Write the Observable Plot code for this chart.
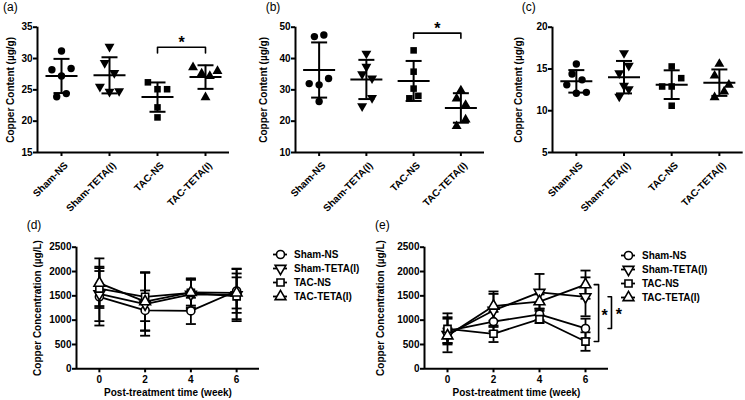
<!DOCTYPE html>
<html><head><meta charset="utf-8">
<script src="https://cdn.jsdelivr.net/npm/d3@7"></script>
<script src="https://cdn.jsdelivr.net/npm/@observablehq/plot@0.6"></script>
<style>
body{margin:0;background:#fff;}
#root{position:relative;width:745px;height:400px;overflow:hidden;font-family:"Liberation Sans",Arial,sans-serif;color:#000;}
.panel{position:absolute;}
.plabel{position:absolute;font-size:12px;line-height:12px;}
</style></head><body><div id="root"></div>
<script>
// ---------- data ----------
const groups = ["Sham-NS", "Sham-TETA(I)", "TAC-NS", "TAC-TETA(I)"];
// (a) copper content, individual animals
const valuesA = [[31.2, 28.2, 28.4, 27.2, 23.9, 24.4], [31.9, 29.3, 27.7, 25.5, 24.7, 24.8], [26.2, 25.1, 25.1, 22.2, 20.6], [28.6, 27.6, 27.2, 28.0, 23.8]];
const jitterA = [[0, -0.2, 0.2, 0, -0.1, 0.1], [0, -0.1, 0.1, -0.2, 0, 0.2], [-0.2, 0, 0.2, 0, 0], [-0.26, -0.08, 0.09, 0.25, 0]];
// (b)
const valuesB = [[47.0, 47.5, 32.0, 31.6, 33.6, 26.3], [41.6, 37.4, 35.0, 33.7, 27.4, 24.8], [42.6, 35.8, 30.4, 27.3, 28.1], [29.8, 27.2, 25.2, 20.5, 18.4]];
const jitterB = [[-0.1, 0.1, -0.21, 0, 0.2, 0], [0, 0, -0.09, 0.12, 0.12, -0.09], [0, 0, 0, -0.09, 0.1], [0, -0.09, 0.1, 0.1, -0.09]];
// (c)
const valuesC = [[15.6, 14.4, 13.7, 13.1, 12.1, 12.2], [16.9, 15.4, 14.5, 13.0, 12.6, 11.7], [15.3, 13.9, 12.9, 12.9, 10.6], [15.6, 14.2, 13.1, 12.3, 11.6]];
const jitterC = [[0, -0.09, 0.12, -0.2, 0, 0.21], [0, 0.1, -0.1, 0, 0.1, -0.1], [0, 0.2, -0.2, 0, 0], [0, -0.1, 0.2, 0.1, -0.1]];
const ticksA = [15, 20, 25, 30, 35];
const ticksB = [10, 20, 30, 40, 50];
const ticksC = [5, 10, 15, 20];
const sigA = {a: 2, b: 3, y: 31.8, drop: 0.9};
const sigB = {a: 2, b: 3, y: 48.1, drop: 1.6};

// (d), (e) serum copper over time: mean and SD per group
const weeks = [0, 2, 4, 6];
const meansD = [[1480, 1200, 1190, 1600], [1540, 1330, 1530, 1520], [1650, 1480, 1560, 1490], [1760, 1380, 1570, 1560]];
const sdsD = [[590, 410, 270, 450], [560, 650, 300, 540], [360, 500, 300, 470], [510, 600, 270, 320]];
const meansE = [[780, 970, 1120, 830], [700, 1200, 1570, 1480], [820, 720, 1020, 560], [680, 1290, 1380, 1730]];
const sdsE = [[250, 200, 120, 200], [360, 340, 380, 400], [320, 170, 80, 190], [150, 300, 150, 290]];
const ticksConc = [0, 500, 1000, 1500, 2000, 2500];
const sigE = [{a: 3, b: 2, x: 6.57, tick: 6.38, starX: 6.83}, {a: 1, b: 0, x: 7.13, tick: 6.98, starX: 7.45}];

// ---------- symbols ----------
const triDown = {draw(ctx, size) {
  const s3 = Math.sqrt(3), y = -Math.sqrt(size / (s3 * 3));
  ctx.moveTo(0, -y * 2); ctx.lineTo(-s3 * y, y); ctx.lineTo(s3 * y, y); ctx.closePath();
}};
const hline = {draw(ctx, size) {
  const w = Math.sqrt(size / Math.PI);
  ctx.moveTo(-w, 0); ctx.lineTo(w, 0);
}};
const groupSymbols = [d3.symbolCircle, triDown, d3.symbolSquare, d3.symbolTriangle];

const baseStyle = {fontFamily: "'Liberation Sans', Arial, sans-serif", fontSize: "10px", fontWeight: "bold", background: "transparent", overflow: "visible", color: "black"};
const intFmt = d3.format("d");

const root = document.getElementById("root");
function place(node, left, top) {
  const d = document.createElement("div");
  d.className = "panel"; d.style.left = left + "px"; d.style.top = top + "px";
  d.appendChild(node); root.appendChild(d);
}
function label(t, left, top) {
  const s = document.createElement("span");
  s.className = "plabel"; s.textContent = t; s.style.left = left + "px"; s.style.top = top + "px";
  root.appendChild(s);
}

function scatterPanel({values, jitter, yDomain, yTicks, width, marginLeft, marginRight, sig, titleDx}) {
  const pts = values.flatMap((vals, g) => vals.map((v, k) => ({g, x: g + jitter[g][k], y: v})));
  const stats = values.map((vals, g) => ({g, mean: d3.mean(vals), sd: d3.deviation(vals)}));
  const idx = groups.map((_, i) => i);
  const marks = [
    Plot.ruleY([yDomain[0]], {strokeWidth: 2}),
    Plot.ruleX([-0.5], {strokeWidth: 2}),
    Plot.axisY(yTicks, {tickSize: 4, tickPadding: 1, strokeWidth: 2, fontSize: 10, tickFormat: intFmt, label: null}),
    Plot.axisX(idx, {tickFormat: () => "", tickSize: 4, strokeWidth: 2, label: null}),
    Plot.text(idx, {x: d => d, frameAnchor: "bottom", text: i => groups[i], rotate: -45, textAnchor: "end", lineAnchor: "top", dx: 2, dy: 8.5, fontSize: 10}),
    Plot.text(["Copper Content (\u00b5g/g)"], {frameAnchor: "left", rotate: -90, dx: titleDx, fontSize: 10, textAnchor: "middle", lineAnchor: "middle"}),
    Plot.ruleX(stats, {x: "g", y1: d => d.mean - d.sd, y2: d => d.mean + d.sd, strokeWidth: 2}),
    Plot.dot(stats, {x: "g", y: "mean", symbol: hline, r: 16, stroke: "black", strokeWidth: 2, fill: "none"}),
    Plot.dot(stats, {x: "g", y: d => d.mean + d.sd, symbol: hline, r: 8, stroke: "black", strokeWidth: 2, fill: "none"}),
    Plot.dot(stats, {x: "g", y: d => d.mean - d.sd, symbol: hline, r: 8, stroke: "black", strokeWidth: 2, fill: "none"}),
    ...groupSymbols.map((sym, g) => Plot.dot(pts.filter(p => p.g === g), {x: "x", y: "y", symbol: sym, r: 3.7, fill: "black", stroke: "none"}))
  ];
  if (sig) {
    marks.push(Plot.line([[sig.a, sig.y - sig.drop], [sig.a, sig.y], [sig.b, sig.y], [sig.b, sig.y - sig.drop]], {strokeWidth: 1.6}));
    marks.push(Plot.text([sig], {x: d => (d.a + d.b) / 2, y: "y", text: () => "*", fontSize: 16, lineAnchor: "bottom", dy: 1}));
  }
  return Plot.plot({
    width, height: 200, marginLeft, marginRight, marginTop: 26.7, marginBottom: 48,
    style: baseStyle,
    x: {domain: [-0.5, 3.5], axis: null},
    y: {domain: yDomain, axis: null},
    marks
  });
}

function linePanel({means, sds, width, marginLeft, marginRight, titleDx, sig}) {
  const rows = means.flatMap((m, g) => m.map((v, k) => ({g, week: weeks[k], mean: v, sd: sds[g][k]})));
  const marks = [
    Plot.ruleY([0], {strokeWidth: 2}),
    Plot.ruleX([-1], {strokeWidth: 2}),
    Plot.axisY(ticksConc, {tickSize: 4, tickPadding: 1, strokeWidth: 2, fontSize: 10, tickFormat: intFmt, label: null}),
    Plot.axisX(weeks, {tickSize: 4, tickPadding: 3, strokeWidth: 2, fontSize: 10, tickFormat: intFmt, label: null}),
    Plot.text(["Copper Concentration (\u00b5g/L)"], {frameAnchor: "left", rotate: -90, dx: titleDx, fontSize: 10, textAnchor: "middle", lineAnchor: "middle"}),
    Plot.text(["Post-treatment time (week)"], {frameAnchor: "bottom", dy: 27.2, fontSize: 10, lineAnchor: "bottom"}),
    Plot.ruleX(rows, {x: "week", y1: d => d.mean - d.sd, y2: d => d.mean + d.sd, strokeWidth: 1.8}),
    Plot.dot(rows, {x: "week", y: d => d.mean + d.sd, symbol: hline, r: 5, stroke: "black", strokeWidth: 1.8, fill: "none"}),
    Plot.dot(rows, {x: "week", y: d => d.mean - d.sd, symbol: hline, r: 5, stroke: "black", strokeWidth: 1.8, fill: "none"}),
    Plot.line(rows, {x: "week", y: "mean", z: "g", stroke: "black", strokeWidth: 1.8}),
    ...groupSymbols.map((sym, g) => Plot.dot(rows.filter(r => r.g === g), {x: "week", y: "mean", symbol: sym, r: 4, fill: "white", stroke: "black", strokeWidth: 1.6}))
  ];
  if (sig) {
    for (const s of sig) {
      const ya = means[s.a][3], yb = means[s.b][3];
      marks.push(Plot.line([[s.tick, ya], [s.x, ya], [s.x, yb], [s.tick, yb]], {strokeWidth: 1.6}));
      marks.push(Plot.text([s], {x: "starX", y: () => (ya + yb) / 2, text: () => "*", fontSize: 16, lineAnchor: "bottom", dy: 7.5}));
    }
  }
  return Plot.plot({
    width, height: 200, marginLeft, marginRight, marginTop: 46.7, marginBottom: 31.7,
    style: baseStyle,
    x: {domain: [-1, 7], axis: null},
    y: {domain: [0, 2500], axis: null},
    marks
  });
}

function legendPanel() {
  return Plot.plot({
    width: 110, height: 60, marginLeft: 0, marginRight: 0, marginTop: 8, marginBottom: 8,
    style: baseStyle,
    x: {domain: [0, 110], axis: null},
    y: {type: "point", domain: groups, padding: 0, axis: null},
    marks: [
      Plot.ruleY(groups, {y: d => d, x1: 0, x2: 14, strokeWidth: 1.8}),
      ...groupSymbols.map((sym, g) => Plot.dot([groups[g]], {x: 7, y: d => d, symbol: sym, r: 4, fill: "white", stroke: "black", strokeWidth: 1.6})),
      Plot.text(groups, {x: 20.5, y: d => d, text: d => d, textAnchor: "start", fontSize: 10})
    ]
  });
}

place(linePanel({means: meansD, sds: sdsD, width: 370, marginLeft: 76, marginRight: 111, titleDx: -38.3}), 0, 200);
place(linePanel({means: meansE, sds: sdsE, width: 375, marginLeft: 54, marginRight: 137, titleDx: -44, sig: sigE}), 370, 200);
place(legendPanel(), 273, 245.3);
place(legendPanel(), 620.7, 246.3);
place(scatterPanel({values: valuesA, jitter: jitterA, yDomain: [15, 35], yTicks: ticksA, width: 245, marginLeft: 37, marginRight: 16, sig: sigA, titleDx: -27}), 0, 0);
place(scatterPanel({values: valuesB, jitter: jitterB, yDomain: [10, 50], yTicks: ticksB, width: 245, marginLeft: 50, marginRight: 6, sig: sigB, titleDx: -31.3}), 245, 0);
place(scatterPanel({values: valuesC, jitter: jitterC, yDomain: [5, 20], yTicks: ticksC, width: 255, marginLeft: 62, marginRight: 2.3, titleDx: -33.7}), 490, 0);
label("(a)", 3, 1);
label("(b)", 265.7, 1);
label("(c)", 521.7, 1);
label("(d)", 26.7, 219);
label("(e)", 375, 219);
</script></body></html>
